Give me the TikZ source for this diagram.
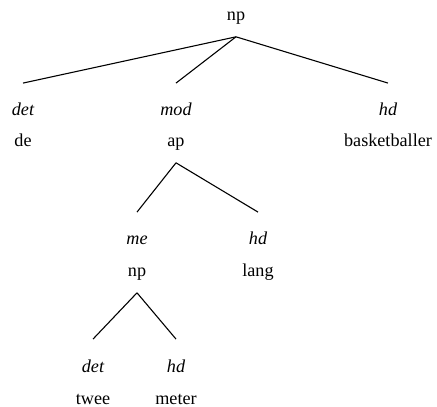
\documentclass[tikz,border=0pt]{standalone}
\usepackage{fontspec}
\setmainfont{Liberation Serif}
\usepackage{tikz}

\begin{document}
\begin{tikzpicture}[
  x=0.55pt, y=-0.55pt,
  word/.style={anchor=base, font=\fontsize{10}{12}\selectfont, text height=7pt, text depth=2.5pt, inner xsep=1pt, inner ysep=6pt},
  lbl/.style={word, font=\fontsize{10}{12}\selectfont\itshape, inner ysep=10.9pt},
  edge/.style={line width=0.6pt}
]
  \useasboundingbox (0,0) rectangle (437,407);

  % top
  \node[word] (np) at (236,21) {np};

  % first level
  \node[lbl]  (detA) at (23,116) {det};
  \node[word] (de) at (23,147) {de};
  \node[lbl]  (modA) at (176,116) {mod};
  \node[word] (ap) at (176,147) {ap};
  \node[lbl]  (hdA) at (388,116) {hd};
  \node[word] (basketballer) at (388,147) {basketballer};

  % under ap
  \node[lbl]  (me) at (137,245) {me};
  \node[word] (npB) at (137,277) {np};
  \node[lbl]  (hdB) at (258,245) {hd};
  \node[word] (lang) at (258,277) {lang};

  % under np
  \node[lbl]  (detC) at (93,372) {det};
  \node[word] (twee) at (93,404) {twee};
  \node[lbl]  (hdC) at (176,372) {hd};
  \node[word] (meter) at (176,404) {meter};

  \draw[edge] (np.south) -- (detA.north);
  \draw[edge] (np.south) -- (modA.north);
  \draw[edge] (np.south) -- (hdA.north);
  \draw[edge] (ap.south) -- (me.north);
  \draw[edge] (ap.south) -- (hdB.north);
  \draw[edge] (npB.south) -- (detC.north);
  \draw[edge] (npB.south) -- (hdC.north);
\end{tikzpicture}
\end{document}
